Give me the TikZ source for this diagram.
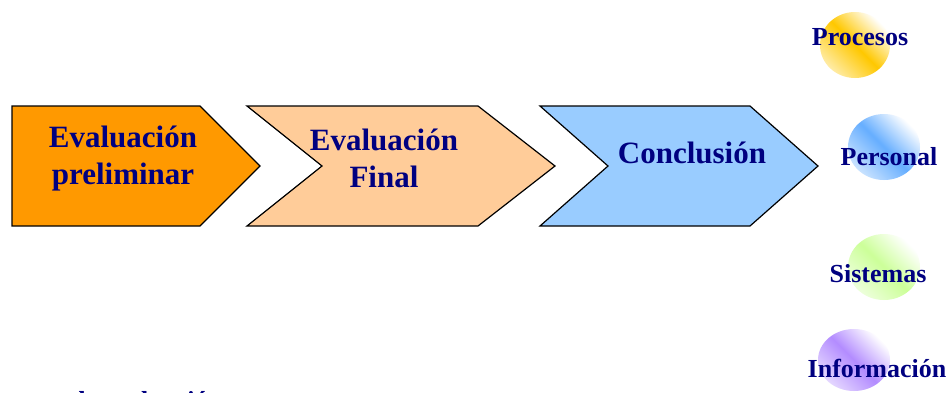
\documentclass[tikz,border=0pt]{standalone}
\usepackage{fontspec}
\setmainfont{Liberation Serif}
\definecolor{navy}{HTML}{000080}
\definecolor{boxA}{HTML}{FF9900}
\definecolor{boxB}{HTML}{FFCC99}
\definecolor{boxC}{HTML}{99CCFF}
\definecolor{gold}{HTML}{FFC800}
\definecolor{skyb}{HTML}{66AEFF}
\definecolor{lgreen}{HTML}{CCFF99}
\definecolor{lilac}{HTML}{B38CFF}
\tikzset{
  arrowbox/.style={draw=black, line width=1.2pt, line join=miter},
  boxlabel/.style={text=navy, font=\fontsize{31}{37}\selectfont\bfseries, align=center, inner sep=0pt},
  sidelabel/.style={text=navy, font=\fontsize{26}{30}\selectfont\bfseries, inner sep=0pt, anchor=base},
  ball/.style={top color=white, bottom color=#1!35, middle color=#1, shading angle=-45}
}
\begin{document}
\begin{tikzpicture}[x=1pt,y=-1pt]
\clip (0,0) rectangle (948,392);
\fill[white] (0,0) rectangle (948,392);
% chevrons
\draw[arrowbox, fill=boxA] (12,106) -- (200,106) -- (260,166) -- (200,226) -- (12,226) -- cycle;
\draw[arrowbox, fill=boxB] (247,106) -- (478,106) -- (555,166) -- (478,226) -- (247,226) -- (322,166) -- cycle;
\draw[arrowbox, fill=boxC] (540,106) -- (750,106) -- (818,166) -- (750,226) -- (540,226) -- (608,166) -- cycle;
\node[boxlabel] (l1) at (123,159) {Evaluación\\preliminar};
\node[boxlabel] (l2) at (384,158) {Evaluación\\Final};
\node[boxlabel, anchor=base] (l3) at (692,163) {Conclusión};
% balls
\shade[ball=gold] (855,45) ellipse [x radius=35, y radius=33];
\shade[ball=skyb] (884,147) ellipse [x radius=36, y radius=33];
\shade[ball=lgreen] (884,267) ellipse [x radius=36, y radius=33];
\shade[ball=lilac] (854,360) ellipse [x radius=36, y radius=31];
\node[sidelabel] (p) at (860,45) {Procesos};
\node[sidelabel] (q) at (889,165) {Personal};
\node[sidelabel] (s) at (878,282) {Sistemas};
\node[sidelabel] (i) at (877,377) {Información};
% cut-off bottom text
\node[text=navy, font=\fontsize{26}{30}\selectfont\bfseries, inner sep=0pt, anchor=base west] (b) at (71,409) {de evaluación};
\end{tikzpicture}
\end{document}
